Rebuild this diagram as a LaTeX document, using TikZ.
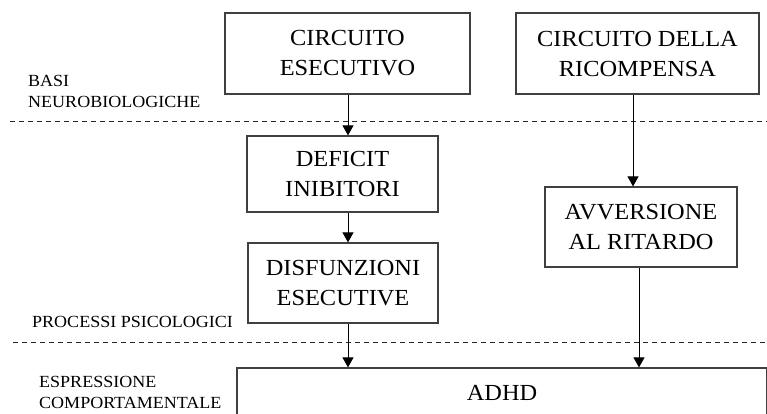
\documentclass[tikz,border=0pt]{standalone}
\usepackage{fontspec}
\setmainfont[FakeStretch=1.06]{Liberation Serif}
\usetikzlibrary{arrows.meta}
\begin{document}
\begin{tikzpicture}[x=1pt,y=-1pt,
  boxnode/.style={draw=black!75, line width=1.2pt, fill=white, align=center,
    inner sep=0pt, font=\fontsize{23}{30}\selectfont},
  lvl/.style={anchor=base west, align=left, inner sep=0pt,
    font=\fontsize{17}{21}\selectfont},
  flow/.style={line width=1pt, -{Triangle[width=11pt,length=10pt]}},
  sep/.style={line width=1pt, black!85, dash pattern=on 5pt off 4pt}]
\useasboundingbox (0,0) rectangle (767,414);

% dividing lines between the levels
\coordinate (s1a) at (10,121.5);  \coordinate (s1b) at (767,121.5);
\coordinate (s2a) at (13,342);    \coordinate (s2b) at (767,342);
\draw[sep] (s1a) -- (s1b);
\draw[sep] (s2a) -- (s2b);

% level labels (anchored at the baseline of the last line)
\node[lvl] (lbl1) at (28,108) {BASI\\NEUROBIOLOGICHE};
\node[lvl] (lbl2) at (32,327) {PROCESSI PSICOLOGICI};
\node[lvl] (lbl3) at (39,408) {ESPRESSIONE\\COMPORTAMENTALE};

% boxes
\node[boxnode, minimum width=245pt, minimum height=81pt] (exec) at (347.5,53.5) {CIRCUITO\\ESECUTIVO};
\node[boxnode, minimum width=243pt, minimum height=81pt] (reward) at (637.5,53.5) {CIRCUITO DELLA\\RICOMPENSA};
\node[boxnode, minimum width=191pt, minimum height=76pt] (inhib) at (342.5,174) {DEFICIT\\INIBITORI};
\node[boxnode, minimum width=190pt, minimum height=80pt] (dysf) at (343,283) {DISFUNZIONI\\ESECUTIVE};
\node[boxnode, minimum width=192pt, minimum height=80pt] (delay) at (641,227) {AVVERSIONE\\AL RITARDO};

% the bottom box runs past the lower edge of the page
\begin{scope}
  \clip (0,0) rectangle (767,414);
  \node[boxnode, minimum width=530pt, minimum height=50pt] (adhd) at (502,393) {ADHD};
\end{scope}

% arrow columns
\coordinate (colL) at (348,0);
\coordinate (colR1) at (633,0);
\coordinate (colR2) at (639,0);

\draw[flow] (exec.south -| colL) -- (inhib.north -| colL);
\draw[flow] (inhib.south -| colL) -- (dysf.north -| colL);
\draw[flow] (dysf.south -| colL) -- (adhd.north -| colL);
\draw[flow] (reward.south -| colR1) -- (delay.north -| colR1);
\draw[flow] (delay.south -| colR2) -- (adhd.north -| colR2);
\end{tikzpicture}
\end{document}
